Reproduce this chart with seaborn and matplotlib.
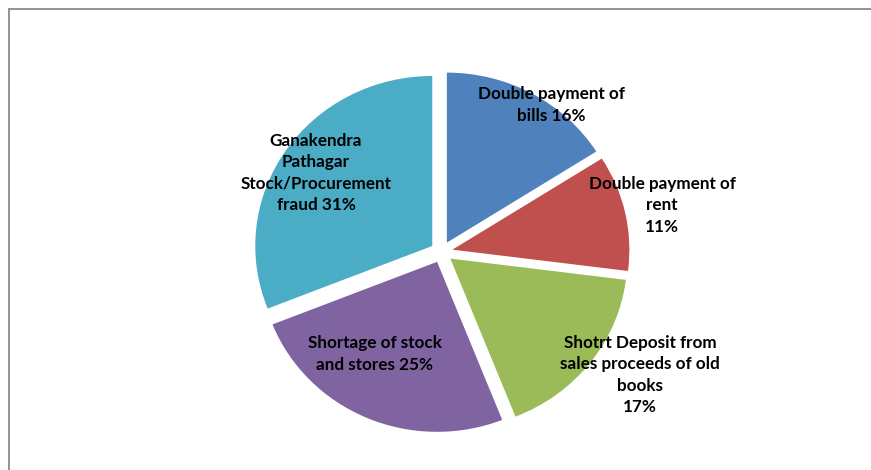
import matplotlib
matplotlib.use("Agg")
import matplotlib.pyplot as plt
from matplotlib.lines import Line2D
import seaborn as sns

categories = [
    "Double payment of\nbills 16%",
    "Double payment of\nrent\n11%",
    "Shotrt Deposit from\nsales proceeds of old\nbooks\n17%",
    "Shortage of stock\nand stores 25%",
    "Ganakendra\nPathagar\nStock/Procurement\nfraud 31%",
]
values = [16, 11, 17, 25, 31]
colors = ["#4F81BD", "#C0504D", "#9BBB59", "#8064A2", "#4BACC6"]

# label anchor positions (layout, in pie-radius units)
label_pos = [(0.62, 0.865), (1.246, 0.276), (1.121, -0.724), (-0.376, -0.60), (-0.709, 0.465)]

sns.set_theme(style="white")
plt.rcParams["font.family"] = ["Lato", "DejaVu Sans"]

fig = plt.figure(figsize=(8.71, 4.70), dpi=100)
ax = fig.add_axes([0, 0, 1, 1])
palette = sns.color_palette(colors)
wedges, _ = ax.pie(values, colors=palette, startangle=90, counterclock=False,
                   explode=[0.063] * len(values), wedgeprops=dict(linewidth=0),
                   frame=False)
ax.set_aspect("auto")
ax.set_xlim(-441.5 / 177, (871 - 441.5) / 177)
ax.set_ylim((252 - 470) / 170, 252 / 170)
ax.axis("off")

for txt, (x, y) in zip(categories, label_pos):
    ax.text(x, y, txt, ha="center", va="center", multialignment="center",
            fontsize=12.3, fontweight="bold", color="black", linespacing=1.42)

# chart area border (top and left)
fig.add_artist(Line2D([8.5 / 871, 1.0], [1 - 8.5 / 470, 1 - 8.5 / 470],
                      transform=fig.transFigure, color="#8a8a8a", linewidth=1.3))
fig.add_artist(Line2D([8.5 / 871, 8.5 / 871], [0, 1 - 8.5 / 470],
                      transform=fig.transFigure, color="#8a8a8a", linewidth=1.3))

fig.savefig("out.png", dpi=100, facecolor="white")
